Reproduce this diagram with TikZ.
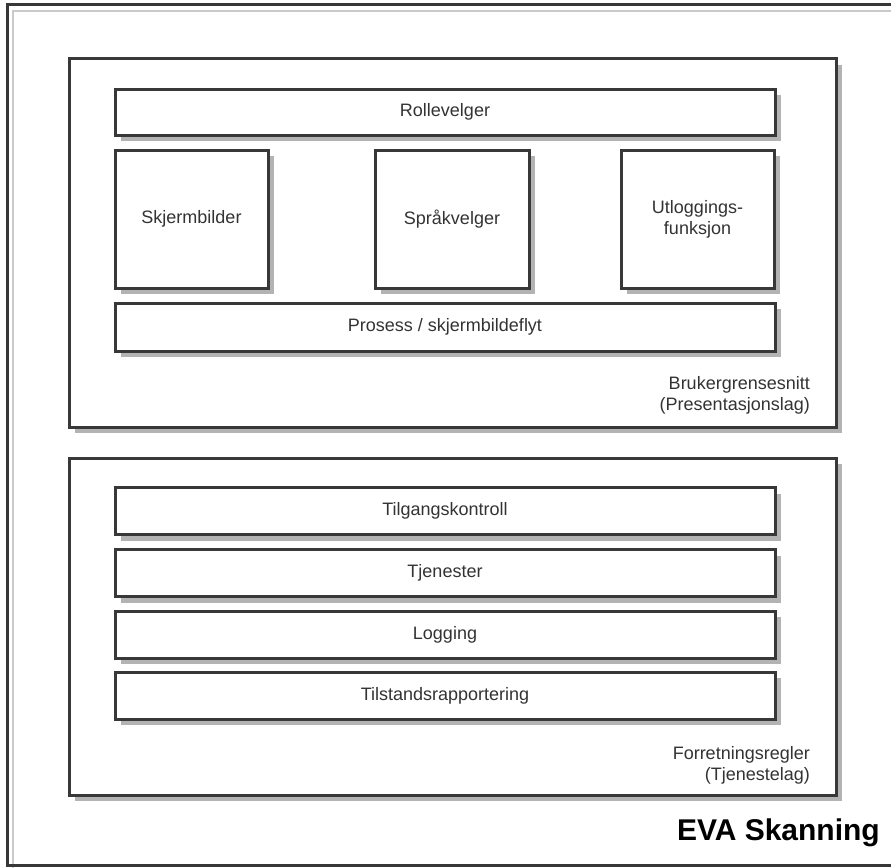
\documentclass[tikz,border=0pt]{standalone}
\usepackage{fontspec}
\setmainfont{Liberation Sans}
\usetikzlibrary{shadows}
\definecolor{strek}{HTML}{383838}
\definecolor{skygge}{HTML}{B3B3B3}
\definecolor{tekst}{HTML}{333333}

\begin{document}
\begin{tikzpicture}[x=1pt, y=-1pt,
	blokk/.style={draw=strek, line width=3pt, fill=white, text=tekst,
		font=\fontsize{18}{21}\selectfont, align=center, inner sep=0pt,
		drop shadow={shadow xshift=6pt, shadow yshift=-6pt, fill=skygge, opacity=1}},
	merke/.style={text=tekst, font=\fontsize{18}{21}\selectfont, align=right, inner sep=0pt}]
			\useasboundingbox (0, 0) rectangle (891, 867);
			\clip (0, 0) rectangle (891, 867);

			% ytre ramme
			\draw [line width=2.4pt, skygge!70] (13, 11) rectangle (902, 872);
			\draw [line width=3pt, strek] (7, 5) rectangle (896, 865);

			% presentasjonslag
			\node [blokk, minimum width=767pt, minimum height=368pt] (presentasjon) at (452.5, 243) {};
			\node [blokk, minimum width=660pt, minimum height=46pt] (rolle) at (445, 112) {Rollevelger};
			\node [blokk, minimum width=153pt, minimum height=138pt] (skjerm) at (191.5, 219) {Skjermbilder};
			\node [blokk, minimum width=154pt, minimum height=138pt] (sprak) at (452, 219) {Språkvelger};
			\node [blokk, minimum width=153pt, minimum height=138pt] (utlogg) at (697.5, 219) {Utloggings-\\funksjon};
			\node [blokk, minimum width=660pt, minimum height=48pt] (prosess) at (445, 327) {Prosess / skjermbildeflyt};
			\node [merke, anchor=east] (presnavn) at (810, 395) {Brukergrensesnitt\\(Presentasjonslag)};

			% tjenestelag
			\node [blokk, minimum width=767pt, minimum height=337pt] (tjeneste) at (452.5, 626.5) {};
			\node [blokk, minimum width=660pt, minimum height=47pt] (tilgang) at (445, 511) {Tilgangskontroll};
			\node [blokk, minimum width=660pt, minimum height=47pt] (tjenester) at (445, 573) {Tjenester};
			\node [blokk, minimum width=660pt, minimum height=47pt] (logging) at (445, 634.5) {Logging};
			\node [blokk, minimum width=660pt, minimum height=47pt] (tilstand) at (445, 695.5) {Tilstandsrapportering};
			\node [merke, anchor=east] (tjennavn) at (810, 765) {Forretningsregler\\(Tjenestelag)};

			\node [anchor=base east, inner sep=0pt, font=\fontsize{30}{34}\selectfont\bfseries] (tittel) at (880, 840) {EVA Skanning};
		\end{tikzpicture}
\end{document}
